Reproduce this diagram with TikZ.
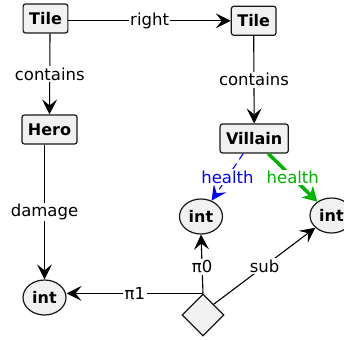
\documentclass[tikz,border=0pt]{standalone}
\usepackage{fontspec}
\setmainfont{DejaVu Sans}
\usetikzlibrary{shapes.geometric,arrows.meta,calc}
\definecolor{nodefill}{HTML}{F1F1F1}
\definecolor{nodeline}{HTML}{181818}
\definecolor{hgreen}{RGB}{0,180,0}
\tikzset{
  box/.style={draw=nodeline, fill=nodefill, line width=1.2pt, rounded corners=2.5pt,
    minimum height=29pt, inner xsep=6pt, inner ysep=0pt, font=\fontsize{16}{18}\selectfont\bfseries},
  ell/.style={draw=nodeline, fill=nodefill, line width=1.2pt, ellipse, minimum width=43pt,
    minimum height=35pt, inner sep=0pt, font=\fontsize{16}{18}\selectfont\bfseries},
  dia/.style={draw=nodeline, fill=nodefill, line width=1.2pt, diamond, minimum width=42pt,
    minimum height=42pt, inner sep=0pt},
  conn/.style={line width=1.1pt, -{Stealth[length=15pt,width=15pt,inset=6pt]}},
  lbl/.style={fill=white, inner sep=1.5pt, font=\fontsize{16.5}{18}\selectfont}
}
\begin{document}
\begin{tikzpicture}[x=1pt,y=-1pt]
\useasboundingbox (0,0) rectangle (344,339);
\node[box] (t1) at (45.5,18.5) {Tile};
\node[box] (t2) at (253.7,20.8) {Tile};
\node[box] (hero) at (49.5,129.5) {Hero};
\node[box] (vil) at (254.2,138.5) {Villain};
\node[ell] (i1) at (44.5,297.5) {int};
\node[ell] (i2) at (201,216.5) {int};
\node[ell] (i3) at (331.5,215.5) {int};
\node[dia] (d) at (203,315) {};

\draw[conn] (t1.east |- t2) -- node[lbl] {right} (t2.west);
\draw[conn] ($(t1.south)+(4.5,0)$) -- node[lbl] {contains} (hero.north);
\draw[conn] (t2.south) -- node[lbl] {contains} (vil.north);
\draw[conn] (hero.south -| i1.north) -- node[lbl] {damage} (i1.north);
\draw[conn, blue, dash pattern=on 7pt off 5pt]
  ($(vil.south)+(-11,0)$) -- node[lbl, text=blue] {health} (i2);
\draw[hgreen, line width=3.5pt, -{Stealth[length=14pt,width=16pt,inset=4pt]}]
  ($(vil.south)+(14,0)$) -- node[lbl, text=hgreen] {health} (i3);
\draw[conn] (d.north) -- node[lbl, pos=0.45] {π0} (i2.south);
\draw[conn] (d.north) -- node[lbl] {π1} (i1.east |- d.north);
\draw[conn] (d.north east) -- node[lbl] {sub} (i3);
\end{tikzpicture}
\end{document}
